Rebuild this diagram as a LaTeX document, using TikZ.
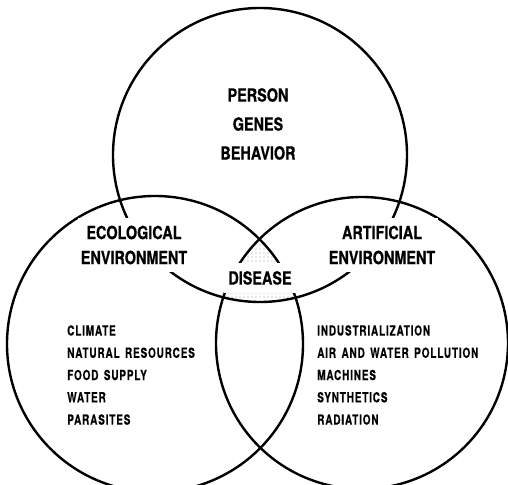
\documentclass[tikz,border=0pt]{standalone}
\usepackage{fontspec}
\newfontfamily\labelfont[FakeStretch=0.8,FakeBold=0.6]{TeX Gyre Heros}
\newfontfamily\listfont[FakeStretch=0.72,LetterSpace=6,WordSpace=1.5,FakeBold=0.3]{TeX Gyre Heros}
\usetikzlibrary{patterns}
\usetikzlibrary{positioning}

\tikzset{
  ring/.style={line width=1.8pt},
  heading/.style={font=\labelfont\bfseries\fontsize{13.5}{18.75}\selectfont, align=center, fill=white, inner xsep=2pt, inner ysep=6pt},
  itemlist/.style={font=\listfont\bfseries\fontsize{10.4}{16.7}\selectfont, align=left, anchor=north west, inner sep=0pt},
}

\begin{document}
\begin{tikzpicture}[x=0.75pt,y=0.75pt,yscale=-1,xscale=1]

\useasboundingbox (0,0) rectangle (508,485);
\clip (0,0) rectangle (508,485);

\coordinate (T) at (260,155);
\coordinate (L) at (155,344);
\coordinate (R) at (362,343);

% Disease Region
\begin{scope}
  \clip (L) circle [radius=148];
  \clip (R) circle [radius=146];
  \fill [pattern=dots, pattern color=gray!80] (T) circle [radius=147];
\end{scope}

% Circles
\draw [ring] (T) circle [radius=147];
\draw [ring] (L) circle [radius=148];
\draw [ring] (R) circle [radius=146];

% Headings
\node (person)  at (258,124) [heading, font=\labelfont\bfseries\fontsize{13.5}{21.75}\selectfont, fill=none] {PERSON\\GENES\\BEHAVIOR};
\node (ecology) at (134,245) [heading] {ECOLOGICAL\\ENVIRONMENT};
\node (artif)   at (382,245) [heading] {ARTIFICIAL\\ENVIRONMENT};
\node (disease) at (260,278) [heading, inner xsep=3pt, inner ysep=6pt] {DISEASE};

% Lists
\node (ecolist) at (67,325)  [itemlist] {CLIMATE\\NATURAL RESOURCES\\FOOD SUPPLY\\WATER\\PARASITES};
\node (artlist) at (317,325) [itemlist] {INDUSTRIALIZATION\\AIR AND WATER POLLUTION\\MACHINES\\SYNTHETICS\\RADIATION};

\end{tikzpicture}
\end{document}
